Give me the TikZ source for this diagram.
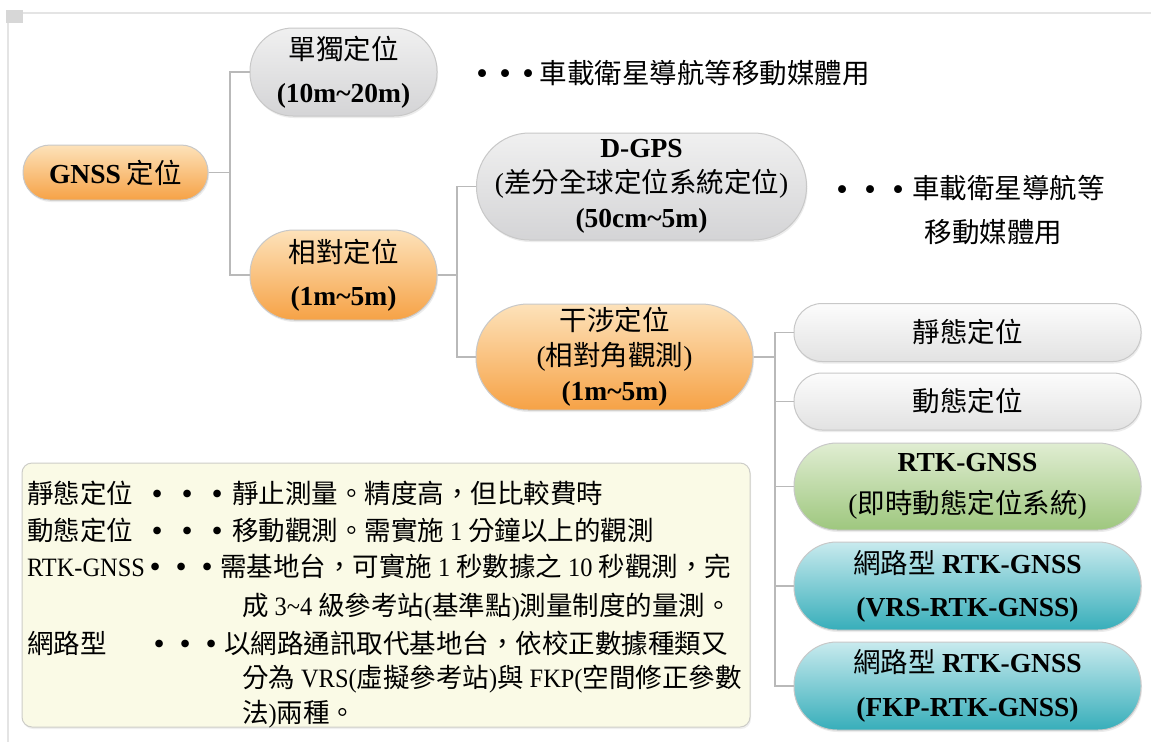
\documentclass[tikz,border=0pt]{standalone}
\usepackage{fontspec}
\setmainfont{Noto Sans CJK TC}
\newfontfamily\lat{Liberation Serif}
\newfontfamily\latc[FakeStretch=0.92]{Liberation Serif}
\usetikzlibrary{shadows}
\definecolor{boxline}{RGB}{200,200,200}
\definecolor{connc}{RGB}{185,185,185}
\definecolor{legfill}{RGB}{250,250,230}
\definecolor{legline}{RGB}{205,205,200}
\definecolor{frameline}{RGB}{228,228,228}
\definecolor{framesq}{RGB}{215,215,215}
\definecolor{otop}{RGB}{253,226,186}
\definecolor{obot}{RGB}{246,162,70}
\definecolor{gtop}{RGB}{240,240,240}
\definecolor{gbot}{RGB}{212,212,214}
\definecolor{wtop}{RGB}{252,252,252}
\definecolor{wbot}{RGB}{226,226,226}
\definecolor{grtop}{RGB}{224,237,210}
\definecolor{grbot}{RGB}{158,199,126}
\definecolor{ttop}{RGB}{200,234,238}
\definecolor{tbot}{RGB}{55,174,186}
\newcommand\onedot{\raisebox{-1.5pt}{\scalebox{1.2}{\lat •}}}
\newcommand\tridots[1]{\makebox[#1]{\onedot}\makebox[#1]{\onedot}\makebox[#1]{\onedot}}
\tikzset{
  box/.style={draw=boxline, line width=1pt, inner sep=0pt, align=center,
    font=\fontsize{27.5}{35}\selectfont,
    drop shadow={opacity=0.15, shadow xshift=1pt, shadow yshift=-2pt}},
  obox/.style={box, top color=otop, bottom color=obot},
  gbox/.style={box, top color=gtop, bottom color=gbot},
  wbox/.style={box, top color=wtop, bottom color=wbot},
  grbox/.style={box, top color=grtop, bottom color=grbot},
  tbox/.style={box, top color=ttop, bottom color=tbot},
  conn/.style={draw=connc, line width=1.6pt},
  note/.style={font=\fontsize{27.5}{36}\selectfont, inner sep=0pt},
  leg/.style={font=\fontsize{26.5}{30}\selectfont, inner sep=0pt, anchor=base west},
}
\begin{document}
\begin{tikzpicture}[x=1pt,y=-1pt]
\useasboundingbox[fill=white] (0,0) rectangle (1151,742);
% frame
\fill[framesq] (6,10) rectangle (23,23);
\draw[frameline, line width=1.5pt] (23,13) -- (1151,13);
\draw[frameline, line width=1.5pt] (8,23) -- (8,742);

% tree nodes
\node[obox, minimum width=185pt, minimum height=55pt, rounded corners=27pt] (gnss) at (115.5,172.5) {{\lat\bfseries GNSS} 定位};
\node[gbox, minimum width=187pt, minimum height=88pt, rounded corners=43pt] (single) at (343.5,72) {單獨定位\\[8pt]{\lat\bfseries (10m\textasciitilde20m)}};
\node[obox, minimum width=187pt, minimum height=90pt, rounded corners=44pt] (rel) at (343.5,275) {相對定位\\[8pt]{\lat\bfseries (1m\textasciitilde5m)}};
\node[gbox, minimum width=330pt, minimum height=107pt, rounded corners=53pt] (dgps) at (641.5,186.5) {{\lat\bfseries D-GPS}\\{\lat(}差分全球定位系統定位{\lat)}\\{\lat\bfseries (50cm\textasciitilde5m)}};
\node[obox, minimum width=277pt, minimum height=106pt, rounded corners=52pt] (intf) at (614.5,357) {干涉定位\\{\lat(}相對角觀測{\lat)}\\{\lat\bfseries (1m\textasciitilde5m)}};
\node[wbox, minimum width=347pt, minimum height=58pt, rounded corners=28pt] (static) at (967.5,332.5) {靜態定位};
\node[wbox, minimum width=347pt, minimum height=57pt, rounded corners=28pt] (kin) at (967.5,401.5) {動態定位};
\node[grbox, minimum width=347pt, minimum height=87pt, rounded corners=43pt] (rtk) at (967.5,486.5) {{\lat\bfseries RTK-GNSS}\\[7pt]{\lat(}即時動態定位系統{\lat)}};
\node[tbox, minimum width=347pt, minimum height=88pt, rounded corners=43pt] (vrs) at (967.5,586) {網路型 {\lat\bfseries RTK-GNSS}\\[8pt]{\lat\bfseries (VRS-RTK-GNSS)}};
\node[tbox, minimum width=347pt, minimum height=88pt, rounded corners=43pt] (fkp) at (967.5,686) {網路型 {\lat\bfseries RTK-GNSS}\\[9pt]{\lat\bfseries (FKP-RTK-GNSS)}};

% connectors
\coordinate (j1) at (230,172.5);
\coordinate (j2) at (457,275);
\coordinate (j3) at (775,357);
\draw[conn] (gnss.east) -- (j1);
\draw[conn] (single.west) -| (j1) |- (rel.west);
\draw[conn] (rel.east) -- (j2);
\draw[conn] (dgps.west) -| (j2) |- (intf.west);
\draw[conn] (intf.east) -- (j3);
\draw[conn] (static.west) -| (j3) |- (fkp.west);
\draw[conn] (j3) |- (kin.west);
\draw[conn] (j3) |- (rtk.west);
\draw[conn] (j3) |- (vrs.west);

% notes
\node[note, anchor=west] (n1) at (470.5,73) {\tridots{23pt}車載衛星導航等移動媒體用};
\node[note, anchor=west] (n2) at (828,188) {\tridots{28pt}車載衛星導航等};
\node[note] (n3) at (993.5,232) {移動媒體用};

% legend
\node[draw=legline, fill=legfill, line width=1pt, rounded corners=10pt, minimum width=728pt, minimum height=264pt, inner sep=0pt, drop shadow={opacity=0.12, shadow xshift=1pt, shadow yshift=-2pt}] (legend) at (386,595) {};
\node[leg] (l1a) at (27,503) {靜態定位};
\node[leg] (l1b) at (142,503) {\tridots{30pt}靜止測量。精度高，但比較費時};
\node[leg] (l2a) at (27,540) {動態定位};
\node[leg] (l2b) at (142,540) {\tridots{30pt}移動觀測。需實施 {\latc 1} 分鐘以上的觀測};
\node[leg] (l3a) at (27,576) {{\latc RTK-GNSS}};
\node[leg] (l3b) at (142,576) {\tridots{26pt}需基地台，可實施 {\latc 1} 秒數據之 {\latc 10} 秒觀測，完};
\node[leg] (l4) at (242,615) {成 {\latc 3\textasciitilde4} 級參考站{\latc(}基準點{\latc)}測量制度的量測。};
\node[leg] (l5a) at (27,653) {網路型};
\node[leg] (l5b) at (146,653) {\tridots{26pt}以網路通訊取代基地台，依校正數據種類又};
\node[leg] (l6) at (242,687) {分為 {\latc VRS(}虛擬參考站{\latc)}與 {\latc FKP(}空間修正參數};
\node[leg] (l7) at (242,722) {法{\latc)}兩種。};
\end{tikzpicture}
\end{document}
